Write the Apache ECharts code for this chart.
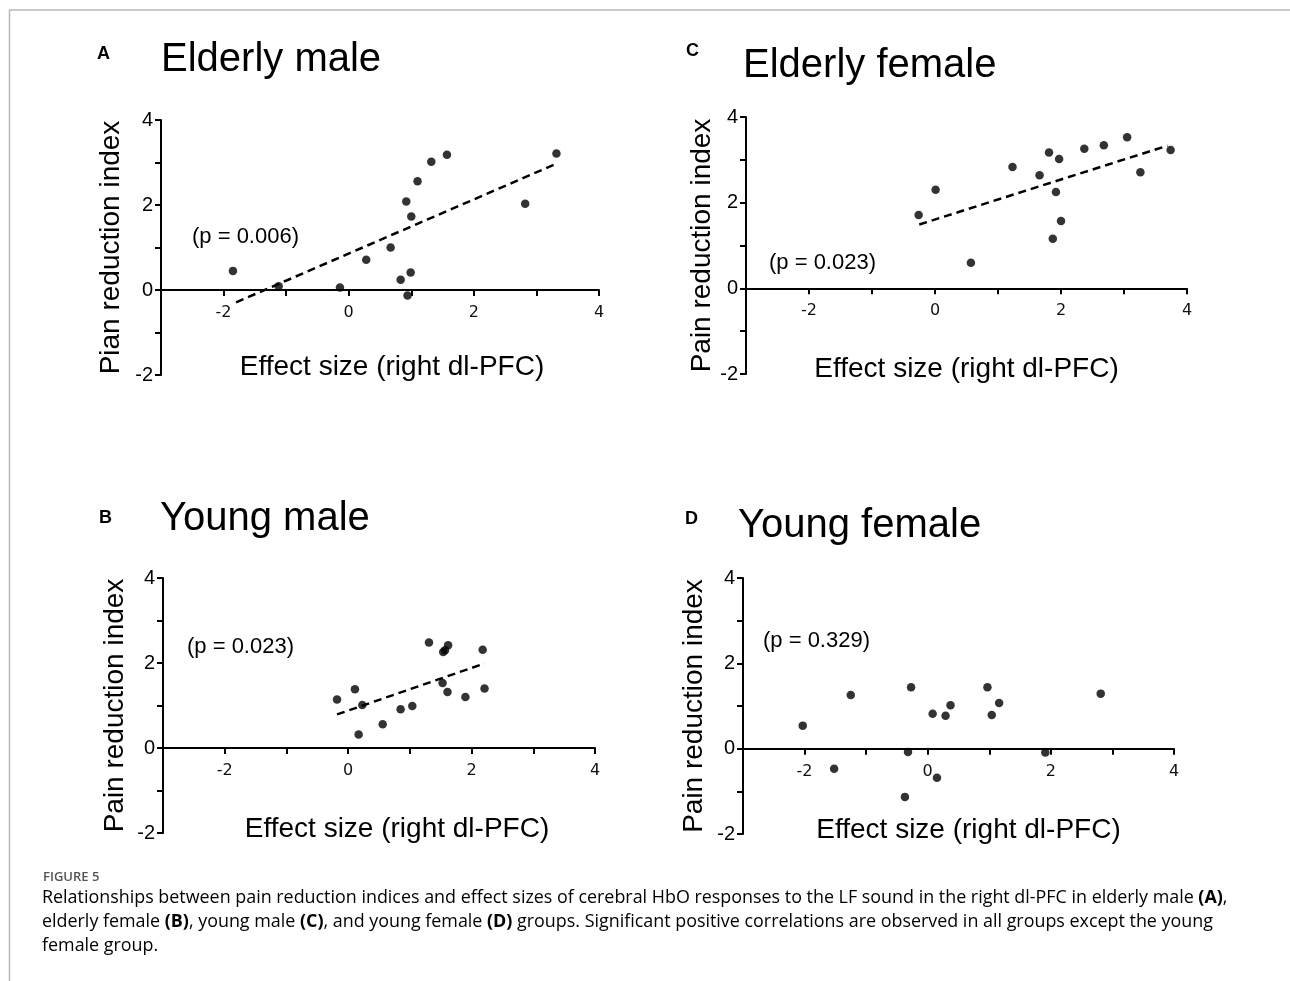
<!DOCTYPE html>
<html>
<head>
<meta charset="utf-8">
<title>Figure 5</title>
<script src="https://cdn.jsdelivr.net/npm/echarts@6/dist/echarts.min.js"></script>
<style>
  html, body { margin: 0; padding: 0; background: #fff; }
  #chart { width: 1290px; height: 981px; }
</style>
</head>
<body>
<div id="chart"></div>
<script>
// values
const elderlyMaleX = [-1.85, -1.12, -0.14, 0.28, 0.67, 0.83, 0.92, 0.94, 0.99, 1.0, 1.10, 1.32, 1.57, 2.82, 3.32];
const elderlyMaleY = [0.45, 0.09, 0.06, 0.71, 1.0, 0.24, 2.08, -0.13, 0.41, 1.73, 2.56, 3.02, 3.18, 2.03, 3.21];
const elderlyMaleFitX = [-1.80, 3.30];
const elderlyMaleFitY = [-0.29, 2.96];

const elderlyFemaleX = [-0.26, 0.01, 0.57, 1.23, 1.66, 1.81, 1.87, 1.92, 1.97, 2.00, 2.37, 2.68, 3.05, 3.26, 3.74];
const elderlyFemaleY = [1.71, 2.30, 0.60, 2.83, 2.64, 3.17, 1.16, 2.25, 3.02, 1.57, 3.26, 3.34, 3.53, 2.71, 3.23];
const elderlyFemaleFitX = [-0.25, 3.69];
const elderlyFemaleFitY = [1.49, 3.33];

const youngMaleX = [-0.18, 0.11, 0.17, 0.23, 0.56, 0.85, 1.04, 1.31, 1.53, 1.54, 1.57, 1.61, 1.62, 1.90, 2.18, 2.21];
const youngMaleY = [1.14, 1.38, 0.32, 1.01, 0.56, 0.91, 0.99, 2.48, 1.53, 2.26, 2.30, 1.32, 2.42, 1.20, 2.31, 1.40];
const youngMaleFitX = [-0.18, 2.21];
const youngMaleFitY = [0.79, 1.99];

const youngFemaleX = [-2.03, -1.52, -1.25, -0.37, -0.32, -0.27, 0.08, 0.15, 0.29, 0.37, 0.97, 1.04, 1.16, 1.91, 2.81];
const youngFemaleY = [0.54, -0.47, 1.26, -1.13, -0.08, 1.44, 0.82, -0.68, 0.77, 1.02, 1.44, 0.79, 1.07, -0.09, 1.29];

const panelTitles = ['Elderly male', 'Elderly female', 'Young male', 'Young female'];
const panelLetters = ['A', 'C', 'B', 'D'];
const pValues = ['(p = 0.006)', '(p = 0.023)', '(p = 0.023)', '(p = 0.329)'];
const yNames = ['Pian reduction index', 'Pain reduction index', 'Pain reduction index', 'Pain reduction index'];
const xName = 'Effect size (right dl-PFC)';

const FONT = '"Liberation Sans", Arial, sans-serif';
const TICKFONT = '"DejaVu Sans", sans-serif';

const zip = (xs, ys) => xs.map((x, i) => [x, ys[i]]);

// grid boxes in pixels (x = -3..4, y = -2..4)
const grids = [
  { left: 161, top: 120, width: 438, height: 255 },
  { left: 746, top: 117, width: 441, height: 257 },
  { left: 163, top: 578, width: 432, height: 255 },
  { left: 743, top: 578, width: 431, height: 256 }
];
const xNameGap = [63, 67, 67, 68];
const xNameShift = [24, 0, 36, 20];
const yNameGap = [36, 30, 34, 35];

const chart = echarts.init(document.getElementById('chart'));

// the x axis sits at y = 0, i.e. 2/6 of the grid height above the bottom
const xAxes = grids.map((g, i) => ({
  gridIndex: i,
  type: 'value',
  min: -3,
  max: 4,
  interval: 1,
  offset: -g.height * 2 / 6,
  name: xName,
  nameLocation: 'middle',
  nameGap: xNameGap[i],
  nameTextStyle: { fontFamily: FONT, fontSize: 28, color: '#000', padding: [0, 0, 0, xNameShift[i]] },
  axisLine: { onZero: false, lineStyle: { color: '#000', width: 2 } },
  axisTick: { length: 6, lineStyle: { color: '#000', width: 2 } },
  axisLabel: {
    margin: 15,
    fontFamily: TICKFONT,
    fontSize: 16,
    color: '#111',
    formatter: (v) => (v % 2 === 0 ? String(v) : '')
  },
  splitLine: { show: false }
}));

const yAxes = grids.map((g, i) => ({
  gridIndex: i,
  type: 'value',
  min: -2,
  max: 4,
  interval: 1,
  name: yNames[i],
  nameLocation: 'middle',
  nameGap: yNameGap[i],
  nameTextStyle: { fontFamily: FONT, fontSize: 28, color: '#000' },
  axisLine: { onZero: false, lineStyle: { color: '#000', width: 2 } },
  axisTick: { length: 6, lineStyle: { color: '#000', width: 2 } },
  axisLabel: {
    margin: 8,
    fontFamily: FONT,
    fontSize: 20,
    color: '#000',
    formatter: (v) => (v % 2 === 0 ? String(v) : '')
  },
  splitLine: { show: false }
}));

const scatterSets = [
  zip(elderlyMaleX, elderlyMaleY),
  zip(elderlyFemaleX, elderlyFemaleY),
  zip(youngMaleX, youngMaleY),
  zip(youngFemaleX, youngFemaleY)
];
const fitSets = [
  zip(elderlyMaleFitX, elderlyMaleFitY),
  zip(elderlyFemaleFitX, elderlyFemaleFitY),
  zip(youngMaleFitX, youngMaleFitY),
  null
];

const series = [];
fitSets.forEach((d, i) => {
  if (!d) return;
  series.push({
    type: 'line',
    xAxisIndex: i,
    yAxisIndex: i,
    data: d,
    symbol: 'none',
    silent: true,
    z: 1,
    lineStyle: { color: '#000', width: 2.5, type: [8, 5] }
  });
});
scatterSets.forEach((d, i) => {
  series.push({
    type: 'scatter',
    xAxisIndex: i,
    yAxisIndex: i,
    data: d,
    symbol: 'circle',
    symbolSize: 8.5,
    z: 3,
    itemStyle: { color: '#000' }
  });
});

// text placed on the page (titles, panel letters, p values, caption)
const titlePos = [[161, 60], [743, 66], [160, 519], [738, 526]];
const letterPos = [[97, 54], [686, 51], [99, 518], [685, 519]];
const pPos = [[192, 237], [769, 263], [187, 647], [763, 641]];

const graphic = [
  { type: 'line', shape: { x1: 9, y1: 10, x2: 1290, y2: 10 }, style: { stroke: '#b8b8b8', lineWidth: 1.5 } },
  { type: 'line', shape: { x1: 9.5, y1: 10, x2: 9.5, y2: 981 }, style: { stroke: '#b8b8b8', lineWidth: 1.5 } }
];
panelTitles.forEach((t, i) => {
  graphic.push({
    type: 'text', x: titlePos[i][0], y: titlePos[i][1],
    style: { text: t, font: '40px ' + FONT, fill: '#000', textAlign: 'left', textVerticalAlign: 'middle' }
  });
  graphic.push({
    type: 'text', x: letterPos[i][0], y: letterPos[i][1],
    style: { text: panelLetters[i], font: 'bold 18px ' + FONT, fill: '#000', textAlign: 'left', textVerticalAlign: 'middle' }
  });
  graphic.push({
    type: 'text', x: pPos[i][0], y: pPos[i][1],
    style: { text: pValues[i], font: '22px ' + FONT, fill: '#000', textAlign: 'left', textVerticalAlign: 'middle' }
  });
});

const CAP = '"Open Sans", "Noto Sans", sans-serif';
const captionLines = [
  '{n|Relationships between pain reduction indices and effect sizes of cerebral HbO responses to the LF sound in the right dl-PFC in elderly male }{b|(A)}{n|,}',
  '{n|elderly female }{b|(B)}{n|, young male }{b|(C)}{n|, and young female }{b|(D)}{n| groups. Significant positive correlations are observed in all groups except the young}',
  '{n|female group.}'
];
const captionRich = {
  n: { fontFamily: CAP, fontSize: 17.9, color: '#666' },
  b: { fontFamily: CAP, fontSize: 17.9, fontWeight: 'bold', color: '#555' }
};
graphic.push({
  type: 'text', x: 43, y: 877,
  style: { text: 'FIGURE 5', font: '600 13px ' + CAP, fill: '#555', textAlign: 'left', textVerticalAlign: 'middle' }
});
captionLines.forEach((line, i) => {
  graphic.push({
    type: 'text', x: 42, y: 898 + i * 24,
    style: { text: line, rich: captionRich, textAlign: 'left', textVerticalAlign: 'middle' }
  });
});

chart.setOption({
  animation: false,
  backgroundColor: '#fff',
  grid: grids.map((g) => Object.assign({ containLabel: false }, g)),
  xAxis: xAxes,
  yAxis: yAxes,
  series: series,
  graphic: graphic
});
</script>
</body>
</html>
